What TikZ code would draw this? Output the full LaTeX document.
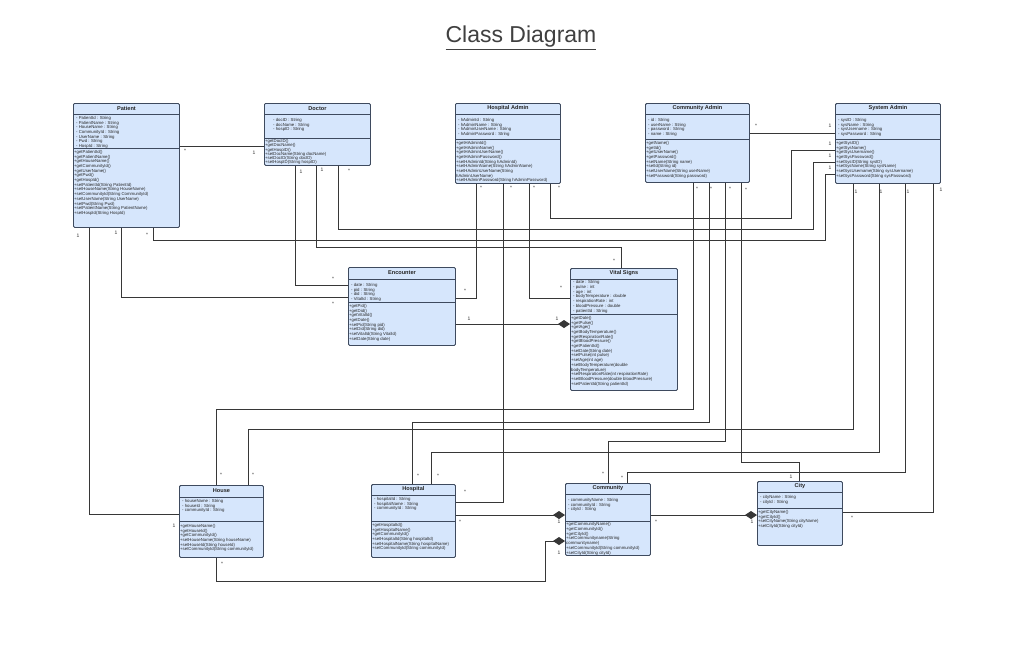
\documentclass[tikz,border=0pt]{standalone}
\usepackage{fontspec}
\setmainfont{Liberation Sans}
\usepackage{tikz}
\usetikzlibrary{positioning,calc}
\usetikzlibrary{arrows.meta}
\definecolor{ClsFill}{RGB}{214,230,252}
\definecolor{ClsLine}{RGB}{62,74,94}
\definecolor{WireGray}{RGB}{55,55,55}
\tikzset{
	cls/.style={draw=ClsLine,fill=ClsFill,line width=0.9pt,anchor=north west,inner sep=0pt,rounded corners=1.2pt},
	sep/.style={draw=ClsLine,line width=0.9pt},
	head/.style={font=\fontsize{5.6}{6}\selectfont\bfseries,text=black!85,inner sep=0pt},
	attr/.style={anchor=north west,font=\fontsize{4.3}{4.7}\selectfont,align=left,inner sep=0pt,text=black!85},
	wire/.style={draw=WireGray,line width=0.9pt},
	comp/.style={wire,-{Diamond[length=12pt,width=8pt]}},
	mult/.style={font=\fontsize{5}{5}\selectfont,inner sep=0pt,text=black!80},
}
\begin{document}
\begin{tikzpicture}[x=1pt,y=-1pt]
	\useasboundingbox[fill=white] (0,0) rectangle (1024,646);
	\node[font=\fontsize{23}{26}\selectfont,text=black!75] (title) at (521,38) {\underline{Class Diagram}};

	% class boxes
	\node[cls,minimum width=106pt,minimum height=124pt] (patient) at (73,103) {};
	\node[cls,minimum width=106pt,minimum height=62pt] (doctor) at (264,103) {};
	\node[cls,minimum width=105pt,minimum height=80pt] (hadmin) at (455,103) {};
	\node[cls,minimum width=104pt,minimum height=79pt] (cadmin) at (645,103) {};
	\node[cls,minimum width=105pt,minimum height=80pt] (sadmin) at (835,103) {};
	\node[cls,minimum width=107pt,minimum height=78pt] (encounter) at (348,267) {};
	\node[cls,minimum width=107pt,minimum height=122pt] (vitals) at (570,268) {};
	\node[cls,minimum width=84pt,minimum height=72pt] (house) at (179,485) {};
	\node[cls,minimum width=84pt,minimum height=73pt] (hospital) at (371,484) {};
	\node[cls,minimum width=85pt,minimum height=72pt] (community) at (565,483) {};
	\node[cls,minimum width=85pt,minimum height=64pt] (city) at (757,481) {};

	% header and section lines
	\foreach \c/\h/\d in {patient/11/45,doctor/11/35,hadmin/11/36,cadmin/11/36,sadmin/11/36,
		encounter/12/35,vitals/11/46,house/12/36,hospital/11/37,community/11/38,city/11/27}{
		\draw[sep] ([yshift=-\h pt]\c.north west) -- ([yshift=-\h pt]\c.north east);
		\draw[sep] ([yshift=-\d pt]\c.north west) -- ([yshift=-\d pt]\c.north east);
	}
	\foreach \c/\h/\t in {patient/11/Patient,doctor/11/Doctor,hadmin/11/Hospital Admin,
		cadmin/11/Community Admin,sadmin/11/System Admin,encounter/12/Encounter,
		vitals/11/Vital Signs,house/12/House,hospital/11/Hospital,community/11/Community,city/11/City}
		\node[head] (\c-name) at ($(\c.north)+(0,\h/2)$) {\t};

	% attributes
	\node[attr] (patient-a) at ([xshift=3pt,yshift=-13pt]patient.north west)
		{- PatientId : String\\- PatientName : String\\- HouseName : String\\- CommunityId : String\\
		- UserName : String\\- Pwd : String\\- HospId : String};
	\node[attr] (doctor-a) at ([xshift=9pt,yshift=-15pt]doctor.north west)
		{- docID : String\\- docName : String\\- hospID : String};
	\node[attr] (hadmin-a) at ([xshift=3pt,yshift=-15pt]hadmin.north west)
		{- hAdminId : String\\- hAdminName : String\\- hAdminUserName : String\\- hAdminPassword : String};
	\node[attr] (cadmin-a) at ([xshift=3pt,yshift=-15pt]cadmin.north west)
		{- id : String\\- userName : String\\- password : String\\- name : String};
	\node[attr] (sadmin-a) at ([xshift=3pt,yshift=-15pt]sadmin.north west)
		{- sysID : String\\- sysName : String\\- sysUsername : String\\- sysPassword : String};
	\node[attr] (encounter-a) at ([xshift=3pt,yshift=-16pt]encounter.north west)
		{- date : String\\- pid : String\\- did : String\\- VitalId : String};
	\node[attr] (vitals-a) at ([xshift=3pt,yshift=-12.5pt]vitals.north west)
		{- date : String\\- pulse : int\\- age : int\\- bodyTemperature : double\\- respirationRate : int\\
		- bloodPressure : double\\- patientId : String};
	\node[attr] (house-a) at ([xshift=3pt,yshift=-14pt]house.north west)
		{- houseName : String\\- houseId : String\\- communityId : String};
	\node[attr] (hospital-a) at ([xshift=3pt,yshift=-13pt]hospital.north west)
		{- hospitalId : String\\- hospitalName : String\\- communityId : String};
	\node[attr] (community-a) at ([xshift=3pt,yshift=-15pt]community.north west)
		{- communityName : String\\- communityId : String\\- cityId : String};
	\node[attr] (city-a) at ([xshift=3pt,yshift=-14pt]city.north west)
		{- cityName : String\\- cityId : String};

	% methods
	\node[attr] (patient-m) at ([xshift=1pt,yshift=-47pt]patient.north west)
		{+getPatientId()\\+getPatientName()\\+getHouseName()\\+getCommunityId()\\+getUserName()\\
		+getPwd()\\+getHospId()\\+setPatientId(String PatientId)\\+setHouseName(String HouseName)\\
		+setCommunityId(String CommunityId)\\+setUserName(String UserName)\\+setPwd(String Pwd)\\
		+setPatientName(String PatientName)\\+setHospId(String HospId)};
	\node[attr,font=\fontsize{4.3}{4.1}\selectfont] (doctor-m) at ([xshift=1pt,yshift=-36.5pt]doctor.north west)
		{+getDocID()\\+getDocName()\\+getHospID()\\+setDocName(String docName)\\
		+setDocID(String docID)\\+setHospID(String hospID)};
	\node[attr] (hadmin-m) at ([xshift=1pt,yshift=-38pt]hadmin.north west)
		{+getHAdminId()\\+getHAdminName()\\+getHAdminUserName()\\+getHAdminPassword()\\
		+setHAdminId(String hAdminId)\\+setHAdminName(String hAdminName)\\+setHAdminUserName(String\\
		hAdminUserName)\\+setHAdminPassword(String hAdminPassword)};
	\node[attr] (cadmin-m) at ([xshift=1pt,yshift=-38pt]cadmin.north west)
		{+getName()\\+getId()\\+getUserName()\\+getPassword()\\+setName(String name)\\
		+setId(String id)\\+setUserName(String userName)\\+setPassword(String password)};
	\node[attr] (sadmin-m) at ([xshift=1pt,yshift=-38pt]sadmin.north west)
		{+getSysID()\\+getSysName()\\+getSysUsername()\\+getSysPassword()\\+setSysID(String sysID)\\
		+setSysName(String sysName)\\+setSysUsername(String sysUsername)\\+setSysPassword(String sysPassword)};
	\node[attr] (encounter-m) at ([xshift=1pt,yshift=-37pt]encounter.north west)
		{+getPid()\\+getDid()\\+getVitalId()\\+getDate()\\+setPid(String pid)\\+setDid(String did)\\
		+setVitalId(String VitalId)\\+setDate(String date)};
	\node[attr] (vitals-m) at ([xshift=1pt,yshift=-48pt]vitals.north west)
		{+getDate()\\+getPulse()\\+getAge()\\+getBodyTemperature()\\+getRespirationRate()\\
		+getBloodPressure()\\+getPatientId()\\+setDate(String date)\\+setPulse(int pulse)\\
		+setAge(int age)\\+setBodyTemperature(double\\bodyTemperature)\\
		+setRespirationRate(int respirationRate)\\+setBloodPressure(double bloodPressure)\\
		+setPatientId(String patientId)};
	\node[attr] (house-m) at ([xshift=1pt,yshift=-39pt]house.north west)
		{+getHouseName()\\+getHouseId()\\+getCommunityId()\\+setHouseName(String houseName)\\
		+setHouseId(String houseId)\\+setCommunityId(String communityId)};
	\node[attr] (hospital-m) at ([xshift=1pt,yshift=-39pt]hospital.north west)
		{+getHospitalId()\\+getHospitalName()\\+getCommunityId()\\+setHospitalId(String hospitalId)\\
		+setHospitalName(String hospitalName)\\+setCommunityId(String communityId)};
	\node[attr] (community-m) at ([xshift=1pt,yshift=-39.5pt]community.north west)
		{+getCommunityName()\\+getCommunityId()\\+getCityId()\\+setCommunityname(String\\
		communityname)\\+setCommunityId(String communityId)\\+setCityId(String cityId)};
	\node[attr] (city-m) at ([xshift=1pt,yshift=-29pt]city.north west)
		{+getCityName()\\+getCityId()\\+setCityName(String cityName)\\+setCityId(String cityId)};

	% associations
	\draw[wire] ([yshift=-43pt]patient.north east) -- ([yshift=-43pt]doctor.north west);
	\draw[wire] ([xshift=16pt]patient.south west) |- ([yshift=-29pt]house.north west);
	\draw[wire] ([xshift=48pt]patient.south west) |- ([yshift=-30pt]encounter.north west);
	\draw[wire] ([xshift=80pt]patient.south west) -- ++(0,13) -| ([xshift=-10pt,yshift=-71pt]sadmin.north west) -- ([yshift=-71pt]sadmin.north west);
	\draw[wire] ([xshift=31pt]doctor.south west) |- ([yshift=-18pt]encounter.north west);
	\draw[wire] ([xshift=52pt]doctor.south west) -- ++(0,82) -| ([xshift=51pt]vitals.north west);
	\draw[wire] ([xshift=74pt]doctor.south west) -- ++(0,64) -| ([xshift=-22pt,yshift=-59pt]sadmin.north west) -- ([yshift=-59pt]sadmin.north west);
	\draw[wire] ([xshift=21pt]hadmin.south west) |- ([yshift=-31pt]encounter.north east);
	\draw[wire] ([xshift=48pt]hadmin.south west) |- ([yshift=-18pt]hospital.north east);
	\draw[wire] ([xshift=74pt]hadmin.south west) |- ([yshift=-30pt]vitals.north west);
	\draw[wire] ([xshift=95pt]hadmin.south west) -- ++(0,35) -| ([xshift=-44pt,yshift=-47pt]sadmin.north west) -- ([yshift=-47pt]sadmin.north west);
	\draw[wire] ([yshift=-30pt]cadmin.north east) -- ([yshift=-30pt]sadmin.north west);
	\draw[wire] ([xshift=48pt]cadmin.south west) -- ++(0,227) -| ([xshift=37pt]house.north west);
	\draw[wire] ([xshift=64pt]cadmin.south west) -- ++(0,240) -| ([xshift=41pt]hospital.north west);
	\draw[wire] ([xshift=80pt]cadmin.south west) -- ++(0,259) -| ([xshift=43pt]community.north west);
	\draw[wire] ([xshift=96pt]cadmin.south west) -- ++(0,280) -| ([xshift=42pt]city.north west);
	\draw[wire] ([xshift=18pt]sadmin.south west) -- ++(0,246) -| ([xshift=69pt]house.north west);
	\draw[wire] ([xshift=44pt]sadmin.south west) -- ++(0,269) -| ([xshift=60pt]hospital.north west);
	\draw[wire] ([xshift=70pt]sadmin.south west) -- ++(0,289) -| ([xshift=62pt]community.north west);
	\draw[wire] ([xshift=98pt]sadmin.south west) |- ([yshift=-31pt]city.north east);

	% compositions
	\draw[comp] ([yshift=-57pt]encounter.north east) -- ([yshift=-56pt]vitals.north west);
	\draw[comp] ([yshift=-31pt]hospital.north east) -- ([yshift=-32pt]community.north west);
	\draw[comp] ([yshift=-32pt]community.north east) -- ([yshift=-34pt]city.north west);
	\draw[comp] ([xshift=37pt]house.south west) -- ++(0,24) -| ([xshift=-20pt,yshift=-58pt]community.north west) -- ([yshift=-58pt]community.north west);

	% multiplicities
	\foreach \x/\y/\t [count=\i] in {185/151/*,254/153/1,78/236/1,174/526/1,116/233/1,333/304/*,
		147/235/*,830/168/1,301/172/1,333/279/*,322/170/1,614/261/*,349/171/*,830/156/1,
		481/188/*,465/291/*,511/188/*,465/492/*,534/188/*,561/288/*,559/188/*,830/144/1,
		756/126/*,830/126/1,697/189/*,221/475/*,711/189/*,418/476/*,730/189/*,603/474/*,
		746/190/*,791/477/1,856/192/1,253/475/*,881/192/1,438/476/*,908/192/1,622/478/*,
		941/190/1,852/518/*,469/319/1,557/319/1,460/522/*,559/522/1,656/522/*,752/522/1,
		222/564/*,559/553/1}
		\node[mult] (m\i) at (\x,\y) {\t};
\end{tikzpicture}
\end{document}
